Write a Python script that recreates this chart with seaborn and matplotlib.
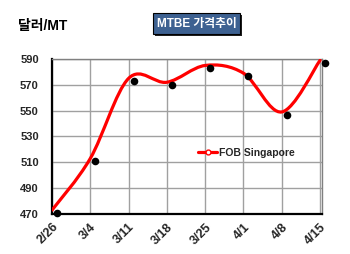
import numpy as np
import pandas as pd
import seaborn as sns
import matplotlib
matplotlib.use('Agg')
import matplotlib.pyplot as plt
from matplotlib.path import Path
from matplotlib.patches import PathPatch, Rectangle
from matplotlib.lines import Line2D
import matplotlib.transforms as mtransforms

dates = ['2/26', '3/4', '3/11', '3/18', '3/25', '4/1', '4/8', '4/15']
fob = [473, 513, 575, 572, 585, 579, 549, 589]
yticks = [470, 490, 510, 530, 550, 570, 590]

sns.set_style('white')
plt.rcParams['font.family'] = ['Liberation Sans', 'Noto Sans CJK KR', 'DejaVu Sans']
plt.rcParams['font.weight'] = 'bold'

df = pd.DataFrame({'pos': np.arange(len(dates)), 'date': dates, 'value': fob})

fig = plt.figure(figsize=(3.5, 2.54), dpi=100)
ax = fig.add_axes([52/350, 1-214/254, 270/350, 155/254])

# smoothed line (Excel-style smoothing, Catmull-Rom -> cubic Bezier)
pts = np.column_stack([df['pos'].to_numpy(float), df['value'].to_numpy(float)])
ext = np.vstack([pts[0], pts, pts[-1]])
verts = [tuple(pts[0])]
codes = [Path.MOVETO]
for i in range(len(pts) - 1):
    p0, p1, p2, p3 = ext[i], ext[i+1], ext[i+2], ext[i+3]
    c1 = p1 + (p2 - p0) / 6
    c2 = p2 - (p3 - p1) / 6
    verts += [tuple(c1), tuple(c2), tuple(p2)]
    codes += [Path.CURVE4] * 3
ax.add_patch(PathPatch(Path(verts, codes), fc='none', ec='#FF0000', lw=2.3,
                       capstyle='round', joinstyle='round', zorder=3))

# black marker "shadows"
shadow = ax.transData + mtransforms.ScaledTranslation(5/100, -3/100, fig.dpi_scale_trans)
sns.scatterplot(data=df, x='pos', y='value', ax=ax, color='black', s=30,
                edgecolor='black', linewidth=0, zorder=4, transform=shadow,
                clip_on=False, legend=False)

ax.set_xlim(0, 7.05)
ax.set_ylim(470, 590)
ax.set_xticks(range(len(dates)))
ax.set_xticklabels(dates, rotation=45, ha='right', va='top', rotation_mode='anchor',
                   fontsize=9, fontweight='bold')
lab_off = mtransforms.ScaledTranslation(6/100, 0, fig.dpi_scale_trans)
for lab in ax.get_xticklabels():
    lab.set_transform(lab.get_transform() + lab_off)
ax.set_yticks(yticks)
ax.set_yticklabels([str(v) for v in yticks], fontsize=8, fontweight='bold')
ax.tick_params(axis='y', length=0, pad=9.5)
ax.tick_params(axis='x', length=0, pad=5)
ax.set_xlabel('')
ax.set_ylabel('')
ax.grid(True, color='#A0A0A0', lw=1)
ax.set_axisbelow(True)
for s in ['left', 'bottom']:
    ax.spines[s].set_color('black')
    ax.spines[s].set_linewidth(1.6)
for s in ['top', 'right']:
    ax.spines[s].set_color('#808080')
    ax.spines[s].set_linewidth(1.0)

handle = Line2D([0], [0], color='#FF0000', lw=2.3, marker='o', mfc='white',
                mec='#FF0000', ms=3.5)
ax.legend([handle], ['FOB Singapore'], frameon=False, loc='center left',
          bbox_to_anchor=(193/350, 1-153/254), bbox_transform=fig.transFigure,
          borderpad=0, handlelength=1.8, handletextpad=0.2,
          prop={'size': 7.5, 'weight': 'bold'})

# unit label
fig.text(18/350, 1-26/254, '달러/MT', fontsize=10, fontweight='bold',
         ha='left', va='center', color='black')

# title box with shadow
bx, by, bw, bh = 153, 13, 87, 21
fig.patches.append(Rectangle(((bx+2)/350, 1-(by+bh+2)/254), bw/350, bh/254,
                             transform=fig.transFigure, fc='#202020', ec='none', zorder=1))
fig.patches.append(Rectangle((bx/350, 1-(by+bh)/254), bw/350, bh/254,
                             transform=fig.transFigure, fc='#3D6191', ec='black',
                             lw=0.8, zorder=2))
fig.text((bx+bw/2)/350, 1-(by+bh/2)/254, 'MTBE 가격추이', fontsize=8.5, fontweight='bold',
         color='white', ha='center', va='center', zorder=3)

fig.savefig('out.png', dpi=100)
